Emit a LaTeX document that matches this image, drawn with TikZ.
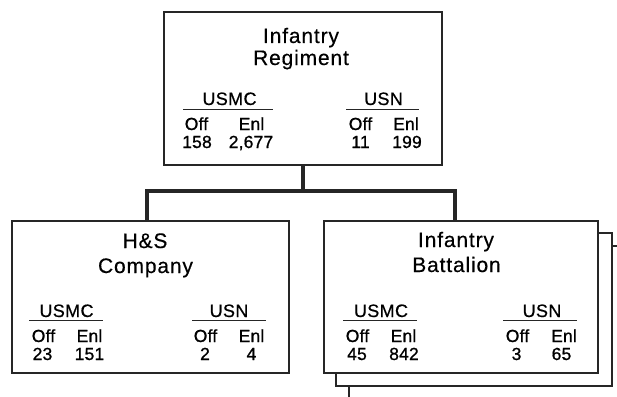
\documentclass[tikz,border=0pt]{standalone}
\usepackage{fontspec}
\setmainfont{Liberation Sans}
\newfontfamily\ttlfont[LetterSpace=4,FakeBold=0.4]{Liberation Sans}
\newfontfamily\hdfont[LetterSpace=2,FakeBold=0.6]{Liberation Sans}
\newfontfamily\valfont[LetterSpace=1,FakeBold=0.9]{Liberation Sans}
\begin{document}
\begin{tikzpicture}[x=1pt,y=-1pt,
  orgbox/.style={draw=black!85, line width=2pt, fill=white, anchor=north west, inner sep=0pt},
  ttl/.style={anchor=base, inner sep=0pt, font=\ttlfont\fontsize{21}{21}\selectfont},
  hd/.style={anchor=base, inner sep=0pt, font=\hdfont\fontsize{18}{18}\selectfont},
  val/.style={anchor=base, inner sep=0pt, font=\valfont\fontsize{17.5}{17.5}\selectfont},
  uline/.style={line width=1.2pt, black!85},
  conn/.style={line width=4pt, black!85}]
\useasboundingbox (0,0) rectangle (617,396);
\clip (0,0) rectangle (617,396);
% stacked battalion boxes
\node[orgbox, minimum width=276pt, minimum height=153pt] (bn3) at (348,245) {};
\node[orgbox, minimum width=276pt, minimum height=153pt] (bn2) at (335,232) {};
\node[orgbox, minimum width=274pt, minimum height=152pt] (bn) at (323,220) {};
\node[orgbox, minimum width=277pt, minimum height=152pt] (hs) at (11,220) {};
\node[orgbox, minimum width=278pt, minimum height=153pt] (reg) at (163,11) {};
% connectors
\coordinate (busL) at (147,191);
\coordinate (busR) at (455,191);
\draw[conn] (reg.south) -- (reg.south |- busL);
\draw[conn] (hs.north -| busL) -- (busL) -- (busR) -- (bn.north -| busR);
% regiment
\node[ttl] (t1) at (301,43) {Infantry};
\node[ttl] (t2) at (301,65) {Regiment};
\node[hd] (rm) at (229.5,105) {USMC};
\draw[uline] (183,109.5) -- (273,109.5);
\node[val] (rmo) at (196.5,130) {Off};
\node[val] (rme) at (251.5,130) {Enl};
\node[val] (rmov) at (197,148) {158};
\node[val] (rmev) at (251,148) {2,677};
\node[hd] (rn) at (383.5,105) {USN};
\draw[uline] (346,109.5) -- (419,109.5);
\node[val] (rno) at (360.5,130) {Off};
\node[val] (rne) at (406,130) {Enl};
\node[val] (rnov) at (360.5,148) {11};
\node[val] (rnev) at (407,148) {199};
% H&S company
\node[ttl] (h1) at (145,248) {H\&S};
\node[ttl] (h2) at (145.5,273) {Company};
\node[hd] (hm) at (66.5,317) {USMC};
\draw[uline] (29,320.5) -- (103,320.5);
\node[val] (hmo) at (43.5,342) {Off};
\node[val] (hme) at (89.5,342) {Enl};
\node[val] (hmov) at (42.5,360) {23};
\node[val] (hmev) at (89.5,360) {151};
\node[hd] (hn) at (229,317) {USN};
\draw[uline] (192,320.5) -- (266,320.5);
\node[val] (hno) at (205.5,342) {Off};
\node[val] (hne) at (251.5,342) {Enl};
\node[val] (hnov) at (205,360) {2};
\node[val] (hnev) at (251.5,360) {4};
% Infantry battalion
\node[ttl] (b1) at (456,247) {Infantry};
\node[ttl] (b2) at (456.5,272) {Battalion};
\node[hd] (bm) at (381,317) {USMC};
\draw[uline] (343,320.5) -- (417,320.5);
\node[val] (bmo) at (357.5,342) {Off};
\node[val] (bme) at (403.5,342) {Enl};
\node[val] (bmov) at (357,360) {45};
\node[val] (bmev) at (404,360) {842};
\node[hd] (bn0) at (542,317) {USN};
\draw[uline] (503,320.5) -- (577,320.5);
\node[val] (bno) at (517.5,342) {Off};
\node[val] (bne) at (564,342) {Enl};
\node[val] (bnov) at (516.5,360) {3};
\node[val] (bnev) at (561.5,360) {65};
\end{tikzpicture}
\end{document}
